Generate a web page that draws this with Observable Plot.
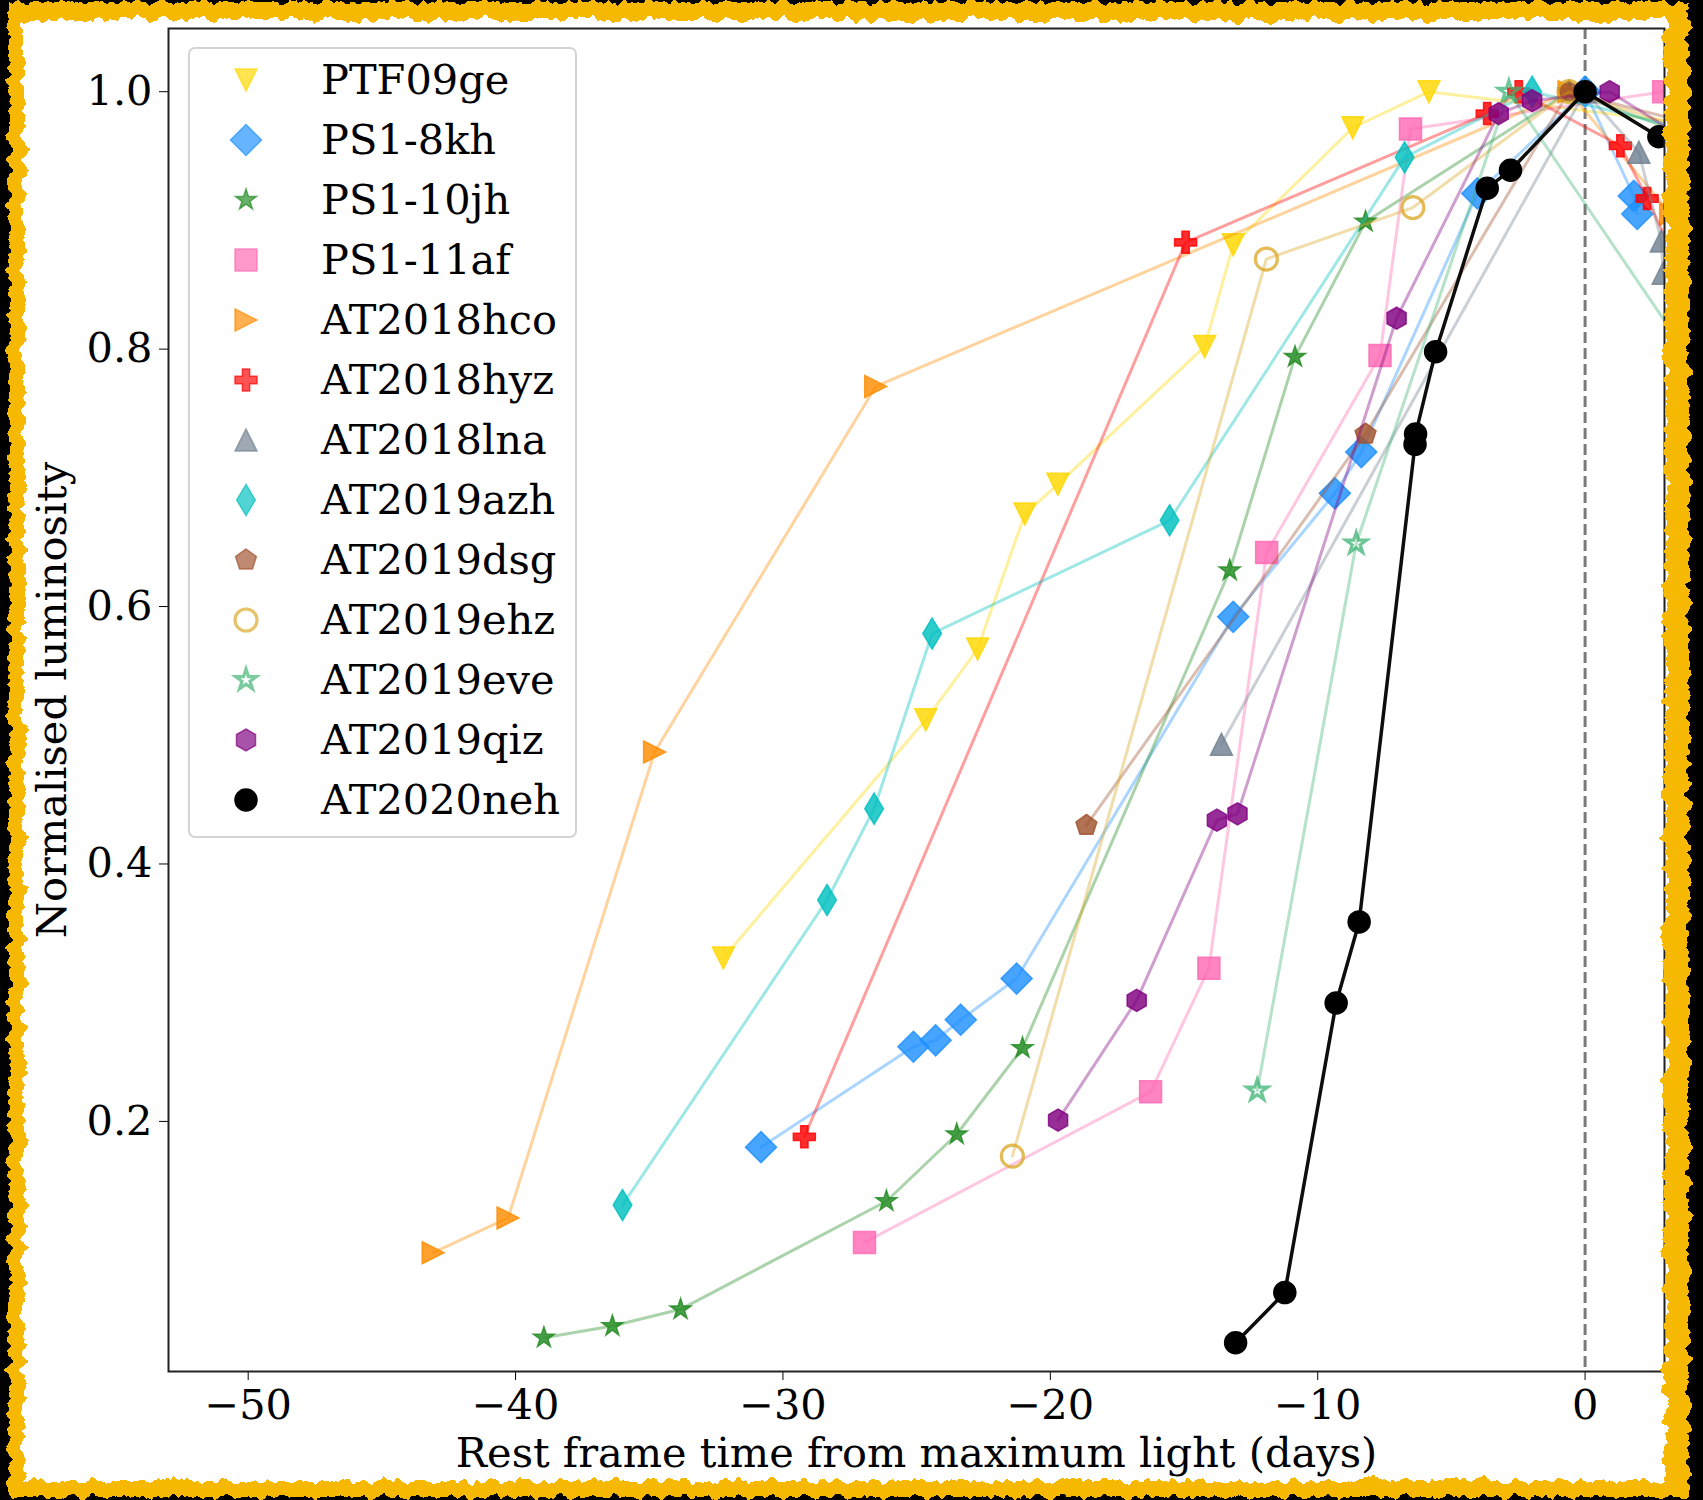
<!DOCTYPE html>
<html>
<head>
<meta charset="utf-8">
<script src="https://cdn.jsdelivr.net/npm/d3@7"></script>
<script src="https://cdn.jsdelivr.net/npm/@observablehq/plot@0.6"></script>
<style>
  html, body { margin: 0; padding: 0; background: #000; }
  #page { position: relative; width: 1703px; height: 1500px; overflow: hidden; background: #000; }
  #page > svg { position: absolute; left: 0; top: 0; }
</style>
</head>
<body>
<div id="page"></div>
<script>
// Tidal disruption event light curves: rest-frame days from peak vs normalised luminosity
const names = [
  "PTF09ge", "PS1-8kh", "PS1-10jh", "PS1-11af", "AT2018hco", "AT2018hyz", "AT2018lna",
  "AT2019azh", "AT2019dsg", "AT2019ehz", "AT2019eve", "AT2019qiz", "AT2020neh"
];

const days = [
  [-32.23, -24.66, -22.72, -20.95, -19.72, -14.23, -13.16, -8.69, -5.84, 4.0],
  [-30.82, -25.12, -24.29, -23.35, -21.26, -13.16, -9.36, -8.37, -4.03, 0.0, 1.82, 1.95],
  [-38.94, -36.38, -33.83, -26.13, -23.5, -21.04, -13.29, -10.85, -8.21, -0.6, 4.0],
  [-26.95, -16.25, -14.07, -11.91, -7.67, -6.53, 2.94],
  [-43.08, -40.28, -34.8, -26.53, -0.6, 3.2],
  [-29.2, -14.94, -3.66, -2.48, 1.32, 2.32, 3.6],
  [-13.6, 0.0, 2.01, 2.85, 2.92, 3.6],
  [-36.0, -28.35, -26.59, -24.42, -15.54, -6.75, -1.98, 4.0],
  [-18.65, -8.21, -0.61, 4.0],
  [-21.42, -11.92, -6.44, -0.6, 4.0],
  [-12.26, -8.56, -2.85, 5.0],
  [-19.71, -16.77, -13.77, -13.0, -7.05, -3.23, -1.98, 0.92, 4.0],
  [-13.07, -11.23, -9.31, -8.45, -6.36, -6.34, -5.59, -3.66, -2.79, 0.0, 2.76, 4.0]
];

const lum = [
  [0.327, 0.512, 0.567, 0.672, 0.695, 0.802, 0.881, 0.972, 1.0, 0.975],
  [0.180, 0.258, 0.263, 0.279, 0.311, 0.592, 0.688, 0.720, 0.921, 1.0, 0.919, 0.905],
  [0.032, 0.041, 0.054, 0.138, 0.190, 0.257, 0.628, 0.794, 0.899, 1.0, 0.965],
  [0.106, 0.223, 0.319, 0.642, 0.795, 0.971, 1.0],
  [0.098, 0.125, 0.487, 0.771, 1.0, 0.905],
  [0.188, 0.883, 0.983, 1.0, 0.958, 0.917, 0.86],
  [0.493, 1.0, 0.953, 0.884, 0.859, 0.80],
  [0.135, 0.372, 0.443, 0.579, 0.667, 0.949, 1.0, 0.97],
  [0.430, 0.734, 1.0, 0.975],
  [0.173, 0.870, 0.910, 1.0, 0.97],
  [0.224, 0.649, 1.0, 0.76],
  [0.201, 0.294, 0.434, 0.439, 0.824, 0.983, 0.993, 1.0, 0.96],
  [0.028, 0.067, 0.292, 0.355, 0.726, 0.734, 0.798, 0.925, 0.939, 1.0, 0.965, 0.94]
];

const xTicks = [-50, -40, -30, -20, -10, 0];
const yTicks = [0.2, 0.4, 0.6, 0.8, 1.0];
const xLabel = "Rest frame time from maximum light (days)";
const yLabel = "Normalised luminosity";

// Styling per object
const colors = [
  "#ffd700", "#1e90ff", "#228b22", "#ff69b4", "#ff8c00", "#ff0000", "#708090",
  "#00bfbf", "#a0522d", "#daa520", "#3cb371", "#800080", "#000000"
];
const markerShapes = [
  "triDown", "diamond", "star", "square", "triRight", "plus", "triUp",
  "thinDiamond", "pentagon", "circle", "star", "hexagon", "circle"
];
const hollow = [false, false, false, false, false, false, false, false, false, true, true, false, false];

const FONT = "DejaVu Serif";
const FONT_SIZE = 41.5;

// Marker outlines in the style of matplotlib's marker set
const radius = (size) => Math.sqrt(size / Math.PI);
function polygon(ctx, pts) {
  ctx.moveTo(pts[0][0], pts[0][1]);
  for (let k = 1; k < pts.length; ++k) ctx.lineTo(pts[k][0], pts[k][1]);
  ctx.closePath();
}
function regular(n, r, inner) {
  const pts = [];
  const m = inner ? 2 * n : n;
  for (let k = 0; k < m; ++k) {
    const a = -Math.PI / 2 + (k * 2 * Math.PI) / m;
    const rr = inner && k % 2 ? inner : r;
    pts.push([rr * Math.cos(a), rr * Math.sin(a)]);
  }
  return pts;
}
const symbols = {
  circle: { draw(c, s) { const r = radius(s); c.moveTo(r, 0); c.arc(0, 0, r, 0, 2 * Math.PI); } },
  triDown: { draw(c, s) { const r = radius(s); polygon(c, [[0, r], [-r, -r], [r, -r]]); } },
  triUp: { draw(c, s) { const r = radius(s); polygon(c, [[0, -r], [r, r], [-r, r]]); } },
  triRight: { draw(c, s) { const r = radius(s); polygon(c, [[r, 0], [-r, r], [-r, -r]]); } },
  diamond: { draw(c, s) { const r = radius(s) * Math.SQRT2; polygon(c, [[0, -r], [r, 0], [0, r], [-r, 0]]); } },
  thinDiamond: { draw(c, s) { const r = radius(s) * Math.SQRT2, w = 0.6 * r; polygon(c, [[0, -r], [w, 0], [0, r], [-w, 0]]); } },
  square: { draw(c, s) { const r = radius(s); polygon(c, [[-r, -r], [r, -r], [r, r], [-r, r]]); } },
  star: { draw(c, s) { const r = radius(s); polygon(c, regular(5, r, 0.381966 * r)); } },
  pentagon: { draw(c, s) { polygon(c, regular(5, radius(s))); } },
  hexagon: { draw(c, s) { polygon(c, regular(6, radius(s))); } },
  plus: {
    draw(c, s) {
      const r = radius(s), a = r / 3;
      polygon(c, [[-a, -r], [a, -r], [a, -a], [r, -a], [r, a], [a, a], [a, r], [-a, r], [-a, a], [-r, a], [-r, -a], [-a, -a]]);
    }
  }
};

const MARKER_R = 11;
const rows = names.map((name, i) => days[i].map((t, j) => ({ name, t, l: lum[i][j] })));

const marks = [
  Plot.ruleX([0], { stroke: "#7a7a7a", strokeWidth: 3, strokeDasharray: "11,5" })
];
names.forEach((name, i) => {
  const solid = colors[i] === "#000000";
  marks.push(Plot.line(rows[i], {
    x: "t", y: "l", stroke: colors[i],
    strokeWidth: solid ? 3.5 : 3, strokeOpacity: solid ? 0.95 : 0.38, clip: true
  }));
  marks.push(Plot.dot(rows[i], {
    x: "t", y: "l", r: MARKER_R, symbol: symbols[markerShapes[i]],
    fill: hollow[i] ? "none" : colors[i],
    fillOpacity: solid ? 1 : 0.82,
    stroke: colors[i],
    strokeWidth: hollow[i] ? 3.2 : 1.5,
    strokeOpacity: solid ? 1 : (hollow[i] ? 0.75 : 0.82),
    clip: true
  }));
});
marks.push(
  Plot.axisX({ ticks: xTicks, tickSize: 9, tickPadding: 9, label: null }),
  Plot.axisY({ ticks: yTicks, tickSize: 9, tickPadding: 7, tickFormat: d3.format(".1f"), label: null }),
  Plot.frame({ stroke: "#222", strokeWidth: 2 }),
  Plot.text([xLabel], { frameAnchor: "bottom", dy: 95, textAnchor: "middle", fill: "#000" }),
  Plot.text([yLabel], { frameAnchor: "left", dx: -116, rotate: -90, textAnchor: "middle", fill: "#000" })
);

const chart = Plot.plot({
  width: 1703,
  height: 1500,
  marginLeft: 168,
  marginTop: 28,
  marginRight: 39,
  marginBottom: 129,
  style: { background: "#fff", fontFamily: FONT, fontSize: `${FONT_SIZE}px`, color: "#000" },
  x: { domain: [-52.98, 2.97] },
  y: { domain: [0.0057, 1.0491] },
  marks
});
document.getElementById("page").appendChild(chart);

// Legend
const page = d3.select("#page");
const legend = page.append("svg").attr("width", 1703).attr("height", 1500)
  .style("pointer-events", "none");
legend.append("rect")
  .attr("x", 189).attr("y", 48).attr("width", 387).attr("height", 789).attr("rx", 6)
  .attr("fill", "#fff").attr("fill-opacity", 0.8)
  .attr("stroke", "#d4d4d4").attr("stroke-width", 2);
names.forEach((name, i) => {
  const cy = 80 + i * 60;
  const p = d3.path();
  symbols[markerShapes[i]].draw(p, MARKER_R * MARKER_R * Math.PI);
  const solid = colors[i] === "#000000";
  legend.append("path")
    .attr("d", p.toString())
    .attr("transform", `translate(246,${cy})`)
    .attr("fill", hollow[i] ? "none" : colors[i])
    .attr("fill-opacity", solid ? 1 : 0.68)
    .attr("stroke", colors[i])
    .attr("stroke-opacity", solid ? 1 : 0.68)
    .attr("stroke-width", hollow[i] ? 3.2 : 1.5);
  legend.append("text")
    .attr("x", 321).attr("y", cy).attr("dy", "0.33em")
    .attr("font-family", FONT).attr("font-size", FONT_SIZE).attr("fill", "#000")
    .text(name);
});

// Painted border around the figure
const border = page.append("svg").attr("width", 1703).attr("height", 1500)
  .style("pointer-events", "none");
const defs = border.append("defs");
function roughFilter(id, freq, seed, scale) {
  const f = defs.append("filter").attr("id", id)
    .attr("x", "-10%").attr("y", "-10%").attr("width", "120%").attr("height", "120%");
  f.append("feTurbulence").attr("type", "fractalNoise").attr("baseFrequency", freq)
    .attr("numOctaves", 3).attr("seed", seed).attr("result", "noise");
  f.append("feDisplacementMap").attr("in", "SourceGraphic").attr("in2", "noise")
    .attr("scale", scale).attr("xChannelSelector", "R").attr("yChannelSelector", "G");
}
roughFilter("roughH", "0.09 0.01", 3, 16);
roughFilter("roughV", "0.01 0.09", 7, 16);
const yellow = "#f6b800";
const bands = [
  // yellow band
  { x: -30, y: -30, w: 1763, h: 50, fill: yellow, f: "roughH" },
  { x: -30, y: 1481, w: 1763, h: 60, fill: yellow, f: "roughH" },
  { x: -30, y: -30, w: 54, h: 1560, fill: yellow, f: "roughV" },
  { x: 1665, y: -30, w: 70, h: 1560, fill: yellow, f: "roughV" },
  // outer black edge
  { x: -30, y: -30, w: 1763, h: 32, fill: "#000", f: "roughH" },
  { x: -30, y: 1497, w: 1763, h: 40, fill: "#000", f: "roughH" },
  { x: -30, y: -30, w: 39, h: 1560, fill: "#000", f: "roughV" },
  { x: 1689, y: -30, w: 50, h: 1560, fill: "#000", f: "roughV" }
];
bands.forEach((b) => {
  border.append("rect").attr("x", b.x).attr("y", b.y).attr("width", b.w).attr("height", b.h)
    .attr("fill", b.fill).attr("filter", `url(#${b.f})`);
});
</script>
</body>
</html>
